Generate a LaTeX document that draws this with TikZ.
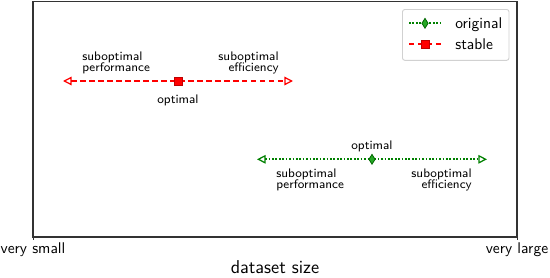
\documentclass[tikz,border=0pt]{standalone}
\usetikzlibrary{arrows.meta,shapes.geometric}
\begin{document}
\begin{tikzpicture}[x=0.645pt,y=-0.645pt,
  axisline/.style={draw=black!80, line width=0.8pt},
  tickline/.style={draw=black!80, line width=0.6pt},
  ticklabel/.style={font=\sffamily, inner sep=0pt, anchor=base},
  axislabel/.style={font=\sffamily\large, inner sep=0pt, anchor=base},
  annot/.style={font=\sffamily\footnotesize, inner sep=0pt, align=left},
  annotr/.style={font=\sffamily\footnotesize, inner sep=0pt, align=right},
  legendbox/.style={draw=black!18, fill=white, rounded corners=1.5pt, line width=0.6pt},
  legendtext/.style={font=\sffamily, inner sep=0pt, anchor=base west},
  stableline/.style={draw=red, line width=1.2pt, dash pattern=on 3.5pt off 2.3pt},
  origline/.style={draw=green!50!black, line width=1.2pt, dash pattern=on 1.1pt off 1.1pt},
  bothtips/.style={{Triangle[open,length=5.5pt,width=5.5pt,line width=0.8pt]}-{Triangle[open,length=5.5pt,width=5.5pt,line width=0.8pt]}},
  sqmark/.style={rectangle, draw=red!75!black, fill=red, minimum size=5pt, inner sep=0pt, line width=0.4pt},
  dmmark/.style={diamond, draw=green!40!black, fill=green!60!black!85!white, minimum width=4.2pt, minimum height=6.5pt, inner sep=0pt, line width=0.5pt}
]
\useasboundingbox (0,0) rectangle (550,278);
% axis frame
\coordinate (bl) at (33,237);
\coordinate (tr) at (517,1.8);
\draw[axisline] (bl) rectangle (tr);
\coordinate (t1) at (33,240.5);
\coordinate (t2a) at (517,237);
\coordinate (t2) at (517,240.5);
\draw[tickline] (bl) -- (t1);
\draw[tickline] (t2a) -- (t2);
\node[ticklabel] (vsmall) at (33,254) {very small};
\node[ticklabel] (vlarge) at (517,254) {very large};
\node[axislabel] (xlabel) at (275,274) {dataset size};

% stable (red)
\coordinate (rl) at (63,81);
\coordinate (rr) at (293,81);
\draw[stableline, bothtips] (rl) -- (rr);
\node[sqmark] (ropt) at (178,81) {};
\node[annot, anchor=north west] (rperf) at (82,52) {suboptimal\\[-2.5pt]performance};
\node[annotr, anchor=north east] (reff) at (279,52) {suboptimal\\[-2.5pt]efficiency};
\node[annot, anchor=north] (roptl) at (178,95) {optimal};

% original (green)
\coordinate (gl) at (257,159.3);
\coordinate (gr) at (487,159.3);
\draw[origline, bothtips] (gl) -- (gr);
\node[dmmark] (gopt) at (372,159.3) {};
\node[annot, anchor=north west] (gperf) at (276,168.3) {suboptimal\\[-2.5pt]performance};
\node[annotr, anchor=north east] (geff) at (472,168.3) {suboptimal\\[-2.5pt]efficiency};
\node[annot, anchor=north] (goptl) at (372,140.7) {optimal};

% legend
\coordinate (lb1) at (402.5,9.5);
\coordinate (lb2) at (509,60.3);
\draw[legendbox] (lb1) rectangle (lb2);
\coordinate (lg1) at (409,23.3);
\coordinate (lg2) at (441,23.3);
\draw[origline] (lg1) -- (lg2);
\node[dmmark] (lgm) at (425,23.3) {};
\node[legendtext] (lgt) at (455,28.2) {original};
\coordinate (lr1) at (409,44.3);
\coordinate (lr2) at (441,44.3);
\draw[stableline] (lr1) -- (lr2);
\node[sqmark] (lrm) at (425,44.3) {};
\node[legendtext] (lrt) at (455,49.2) {stable};
\end{tikzpicture}
\end{document}
